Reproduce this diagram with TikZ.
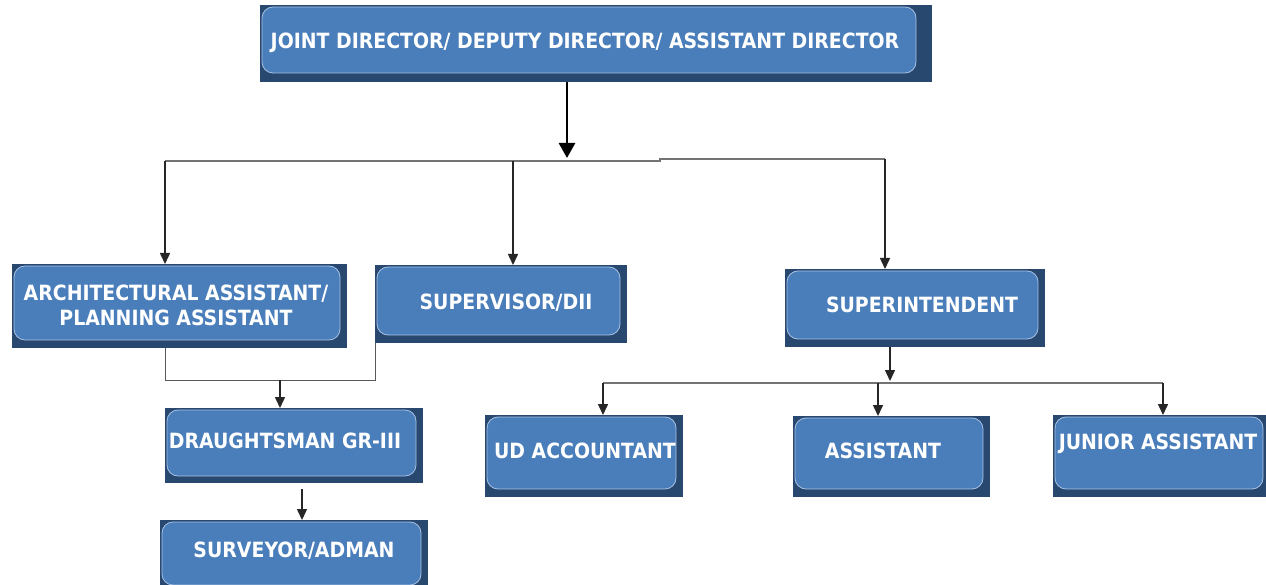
\documentclass[tikz,border=0pt]{standalone}
\usepackage{fontspec}
\newfontfamily\boxfont{DejaVu Sans Condensed}
\usetikzlibrary{arrows.meta,fit}
\definecolor{boxblue}{HTML}{4A7EBB}
\definecolor{boxdark}{HTML}{284870}
\definecolor{boxedge}{HTML}{A8C2E4}
\tikzset{
  back/.style={fill=boxdark, inner sep=0pt, outer sep=0pt, rectangle},
  front/.style={fill=boxblue, draw=boxedge, line width=0.8pt, rounded corners=11pt, inner sep=0pt, outer sep=0pt, rectangle},
  lbl/.style={text=white, font=\boxfont\bfseries\fontsize{21}{25}\selectfont, align=center, inner sep=0pt},
  conn/.style={draw=black!85, line width=1.5pt},
  hline/.style={draw=black!55, line width=2pt},
  thinconn/.style={draw=black!65, line width=1pt},
  arr/.style={conn, -{Triangle[length=11pt,width=10pt]}},
  bigarr/.style={draw=black, line width=2.8pt, -{Triangle[length=15pt,width=16pt]}}
}
% name, x1, y1, x2, y2, right inset, bottom inset
\newcommand\orgbox[7]{%
  \path (#2,#3) coordinate (#1nw) (#4,#5) coordinate (#1se);
  \node[back, fit=(#1nw)(#1se)] (#1b) {};
  \path (#2+2,#3+2) coordinate (#1fa) (#4-#6,#5-#7) coordinate (#1fb);
  \node[front, fit=(#1fa)(#1fb)] (#1) {};
}
\begin{document}
\begin{tikzpicture}[x=1pt,y=-1pt]
\useasboundingbox (0,0) rectangle (1266,585);
\fill[white] (0,0) rectangle (1266,585);
% boxes
\orgbox{top}{260}{5}{932}{82}{16}{9}
\orgbox{aa}{12}{264}{347}{348}{7}{8}
\orgbox{sup}{375}{265}{627}{343}{7}{8}
\orgbox{supt}{785}{269}{1045}{347}{7}{8}
\orgbox{dr}{165}{408}{423}{483}{7}{7}
\orgbox{sv}{160}{520}{428}{592}{7}{7}
\orgbox{ud}{485}{415}{683}{497}{7}{8}
\orgbox{as}{793}{416}{990}{497}{7}{8}
\orgbox{jr}{1053}{415}{1270}{497}{7}{8}
% labels
\node[lbl] (toptxt) at (585,43) {JOINT DIRECTOR/ DEPUTY DIRECTOR/ ASSISTANT DIRECTOR};
\node[lbl] (aatxt) at (176,305) {ARCHITECTURAL ASSISTANT/\\PLANNING ASSISTANT};
\node[lbl] (suptxt) at (506,303) {SUPERVISOR/DII};
\node[lbl] (supttxt) at (922,305) {SUPERINTENDENT};
\node[lbl] (drtxt) at (285,441) {DRAUGHTSMAN GR-III};
\node[lbl] (svtxt) at (294,551) {SURVEYOR/ADMAN};
\node[lbl] (udtxt) at (585,451) {UD ACCOUNTANT};
\node[lbl] (astxt) at (883,451) {ASSISTANT};
\node[lbl] (jrtxt) at (1158,444) {JUNIOR ASSISTANT};
% connectors from top
\coordinate (j0) at (567,158);
\draw[bigarr] (topb.south -| j0) -- (j0);
\coordinate (h1) at (165,161);
\coordinate (h2) at (513,161);
\coordinate (hs) at (660,161);
\coordinate (ht) at (660,159);
\coordinate (h3) at (885,159);
\draw[hline] (h1) -- (hs) -- (ht) -- (h3);
\draw[arr] (h1) -- (h1 |- aab.north);
\draw[arr] (h2) -- (h2 |- supb.north);
\draw[arr] (h3) -- (h3 |- suptb.north);
% left branch
\coordinate (k1) at (165,380);
\coordinate (k2) at (375,380);
\coordinate (k3) at (280,380);
\draw[thinconn] (aab.south -| k1) -- (k1) -- (k2) -- (supb.south west);
\draw[arr] (k3) -- (k3 |- drb.north);
\coordinate (k4) at (302,489);
\draw[arr] (k4) -- (k4 |- svb.north);
% right branch
\coordinate (m0) at (890,381);
\draw[arr] (suptb.south -| m0) -- (m0);
\coordinate (m1) at (603,383);
\coordinate (m2) at (878,383);
\coordinate (m3) at (1163,383);
\draw[hline] (m1) -- (m3);
\draw[arr] (m1) -- (m1 |- udb.north);
\draw[arr] (m2) -- (m2 |- asb.north);
\draw[arr] (m3) -- (m3 |- jrb.north);
\end{tikzpicture}
\end{document}
